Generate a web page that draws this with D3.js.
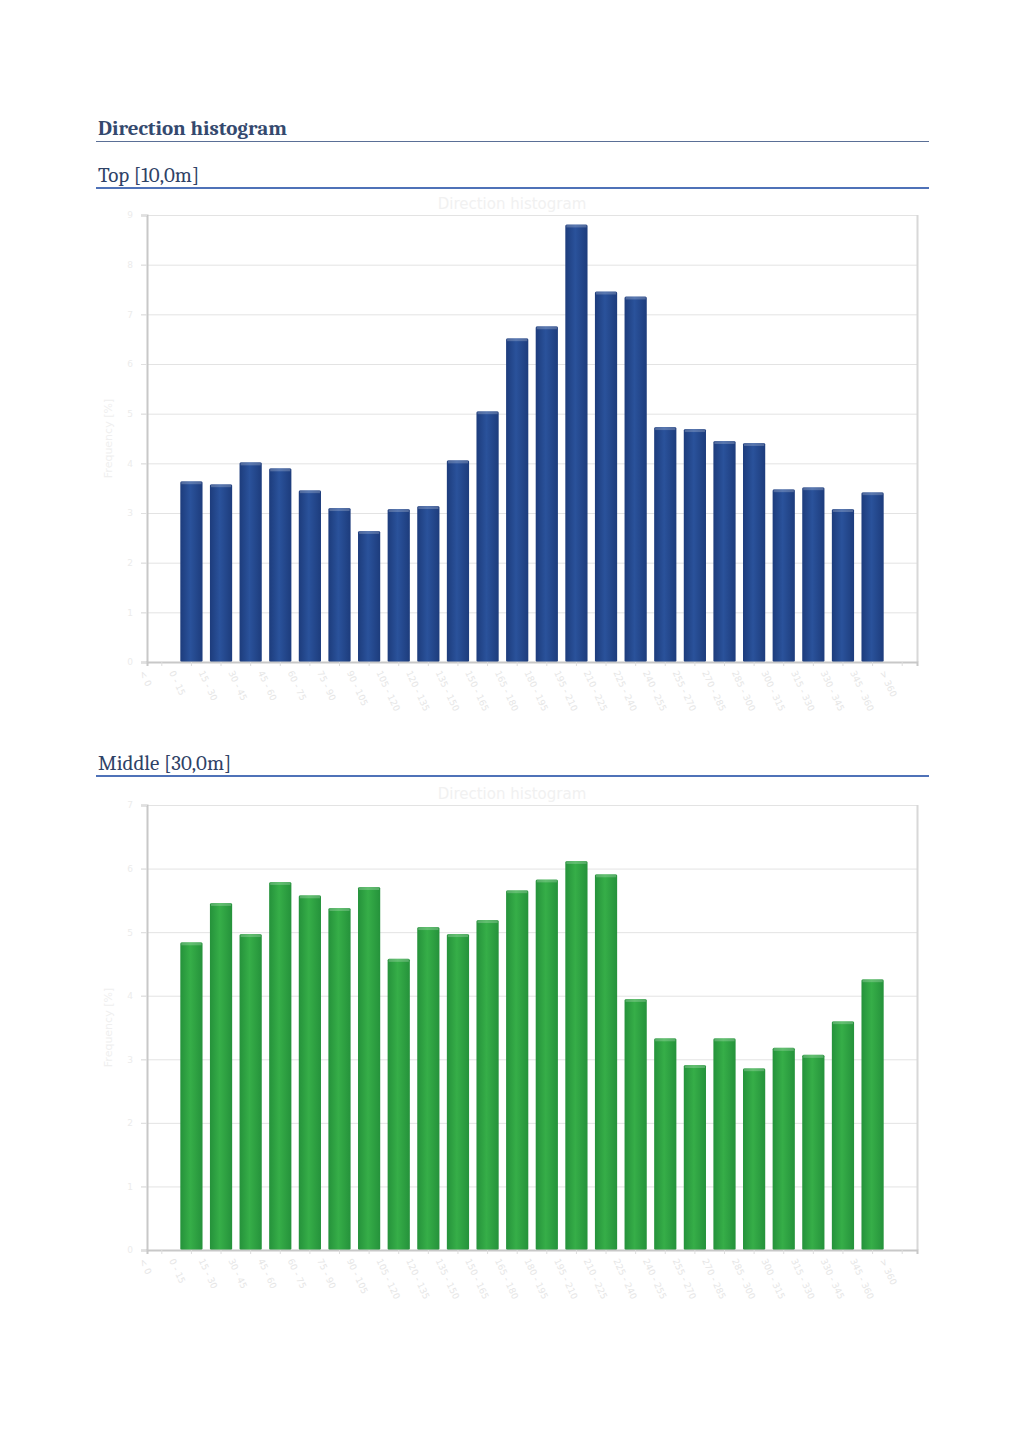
<!DOCTYPE html>
<html>
<head>
<meta charset="utf-8">
<script src="https://cdn.jsdelivr.net/npm/d3@7"></script>
<style>
  body { margin: 0; background: #fff; }
  svg { display: block; }
</style>
</head>
<body>
<div id="page"></div>
<script>
// direction sectors (first and last slots are empty in the source)
var sectors = ["< 0", "0 - 15", "15 - 30", "30 - 45", "45 - 60", "60 - 75", "75 - 90",
  "90 - 105", "105 - 120", "120 - 135", "135 - 150", "150 - 165", "165 - 180",
  "180 - 195", "195 - 210", "210 - 225", "225 - 240", "240 - 255", "255 - 270",
  "270 - 285", "285 - 300", "300 - 315", "315 - 330", "330 - 345", "345 - 360", "> 360"];

var topValues = [0, 3.64, 3.58, 4.02, 3.90, 3.46, 3.10, 2.64, 3.08, 3.14, 4.06, 5.05, 6.52,
  6.76, 8.81, 7.46, 7.36, 4.73, 4.69, 4.45, 4.41, 3.48, 3.52, 3.08, 3.42, 0];
var middleValues = [0, 4.84, 5.46, 4.97, 5.79, 5.58, 5.38, 5.71, 4.58, 5.08, 4.97, 5.19, 5.66,
  5.83, 6.12, 5.91, 3.95, 3.33, 2.91, 3.33, 2.86, 3.18, 3.07, 3.60, 4.26, 0];

var topTicks = [0, 1, 2, 3, 4, 5, 6, 7, 8, 9];
var middleTicks = [0, 1, 2, 3, 4, 5, 6, 7];

var W = 1024, H = 1448;
var svg = d3.select("#page").append("svg").attr("width", W).attr("height", H);
var defs = svg.append("defs");

function barGradient(id, dark, light) {
  var g = defs.append("linearGradient").attr("id", id)
    .attr("x1", 0).attr("x2", 1).attr("y1", 0).attr("y2", 0);
  g.append("stop").attr("offset", "0%").attr("stop-color", dark);
  g.append("stop").attr("offset", "45%").attr("stop-color", light);
  g.append("stop").attr("offset", "100%").attr("stop-color", dark);
}
barGradient("gBlue", "#1d3c7c", "#2a529b");
barGradient("gGreen", "#25923b", "#36ae48");

var serif = "Cambria, 'DejaVu Serif', 'Liberation Serif', serif";

// headings
svg.append("text").attr("x", 98).attr("y", 135)
  .style("font-family", serif).style("font-size", "21px").style("font-weight", "bold")
  .attr("fill", "#34496e").text("Direction histogram");
svg.append("line").attr("x1", 96).attr("x2", 929).attr("y1", 141.5).attr("y2", 141.5)
  .attr("stroke", "#5a6f96").attr("stroke-width", 1);

function section(title, y) {
  svg.append("text").attr("x", 98).attr("y", y)
    .style("font-family", serif).style("font-size", "21px")
    .attr("fill", "#2f4266").text(title);
  svg.append("line").attr("x1", 96).attr("x2", 929).attr("y1", y + 6).attr("y2", y + 6)
    .attr("stroke", "#4f72b8").attr("stroke-width", 2);
}

function chart(values, ticks, top, bottom, fillId) {
  var left = 147, right = 917;

  var x = d3.scaleBand().domain(sectors).range([left, right]).paddingInner(0.25).paddingOuter(0.125);
  var y = d3.scaleLinear().domain([0, d3.max(ticks)]).range([bottom, top]);

  var g = svg.append("g");

  // faint chart caption
  g.append("text").attr("x", 512).attr("y", top - 6).attr("text-anchor", "middle")
    .style("font-family", "'DejaVu Sans', sans-serif").style("font-size", "15px")
    .attr("fill", "#f1f1f1").text("Direction histogram");

  // grid
  g.selectAll(".grid").data(ticks).enter().append("line")
    .attr("x1", left - 6).attr("x2", right)
    .attr("y1", function (d) { return y(d) + 0.5; })
    .attr("y2", function (d) { return y(d) + 0.5; })
    .attr("stroke", "#e3e3e3");

  // frame
  g.append("line").attr("x1", right + 0.5).attr("x2", right + 0.5).attr("y1", top).attr("y2", bottom)
    .attr("stroke", "#d8d8d8").attr("stroke-width", 2);

  // y axis
  var ya = g.append("g").attr("transform", "translate(" + left + ",0)")
    .call(d3.axisLeft(y).tickValues(ticks).tickFormat(d3.format("d")).tickSize(6).tickPadding(8));
  ya.select(".domain").attr("stroke", "#c8c8c8").attr("stroke-width", 2);
  ya.selectAll(".tick line").attr("stroke", "#e0e0e0");
  ya.selectAll("text").attr("fill", "#ececec")
    .style("font-family", "'DejaVu Sans', sans-serif").style("font-size", "9px");

  g.append("text")
    .attr("transform", "translate(112," + ((top + bottom) / 2) + ") rotate(-90)")
    .attr("text-anchor", "middle")
    .style("font-family", "'DejaVu Sans', sans-serif").style("font-size", "11px")
    .attr("fill", "#efefef").text("Frequency [%]");

  // bars
  var bars = g.selectAll(".bar").data(values.map(function (v, i) { return { k: sectors[i], v: v }; })
    .filter(function (d) { return d.v > 0; }))
    .enter().append("g").attr("class", "bar");

  bars.append("rect")
    .attr("x", function (d) { return x(d.k); })
    .attr("y", function (d) { return y(d.v); })
    .attr("width", x.bandwidth())
    .attr("height", function (d) { return bottom - y(d.v); })
    .attr("rx", 1.5)
    .attr("fill", "url(#" + fillId + ")");

  bars.append("rect")
    .attr("x", function (d) { return x(d.k) + 1; })
    .attr("y", function (d) { return y(d.v); })
    .attr("width", x.bandwidth() - 2)
    .attr("height", 3)
    .attr("fill", "#ffffff").attr("opacity", 0.22);

  // x axis
  var xa = g.append("g").attr("transform", "translate(0," + bottom + ")")
    .call(d3.axisBottom(x).tickSize(4).tickPadding(10));
  xa.select(".domain").attr("stroke", "#c8c8c8").attr("stroke-width", 2);
  xa.selectAll(".tick line").attr("stroke", "#dddddd");
  xa.selectAll("text")
    .attr("text-anchor", "start")
    .attr("transform", "translate(-4,2) rotate(65)")
    .attr("fill", "#e6e6e6")
    .style("font-family", "'DejaVu Sans', sans-serif").style("font-size", "9px");
}

section("Top [10,0m]", 182);
chart(topValues, topTicks, 215, 662, "gBlue");

section("Middle [30,0m]", 770);
chart(middleValues, middleTicks, 805, 1250, "gGreen");
</script>
</body>
</html>
